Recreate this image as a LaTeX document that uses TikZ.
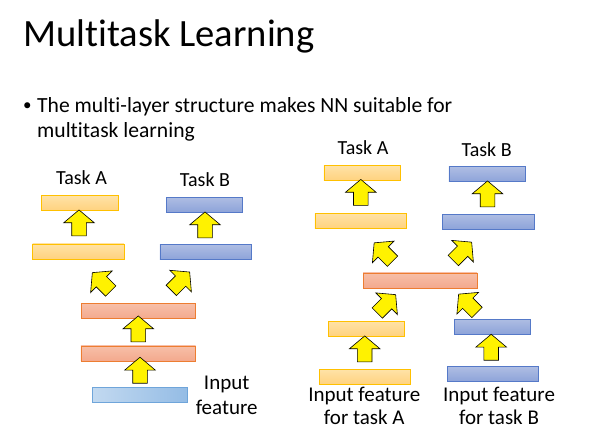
\documentclass[tikz,border=0pt]{standalone}
\usepackage{fontspec}
\setmainfont{Carlito}[Ligatures=NoCommon]
\usepackage{tikz}
\usetikzlibrary{shapes.arrows}

\definecolor{orLine}{HTML}{FFC000}
\definecolor{orTop}{HTML}{FFE2A6}
\definecolor{orBot}{HTML}{FFD27E}
\definecolor{blLine}{HTML}{5579C8}
\definecolor{blTop}{HTML}{AEBDE3}
\definecolor{blBot}{HTML}{8DA3D9}
\definecolor{rdLine}{HTML}{ED7D31}
\definecolor{rdTop}{HTML}{F7BFA8}
\definecolor{rdBot}{HTML}{F3A98D}
\definecolor{inLine}{HTML}{6FA5DA}
\definecolor{inLeft}{HTML}{C2D9F0}
\definecolor{inRight}{HTML}{94BCE5}

\begin{document}
\begin{tikzpicture}[x=1pt,y=-1pt]
		\tikzset{bar/.style={draw, line width=0.9pt, minimum height=15pt, inner sep=0pt}}
		\tikzset{orangebar/.style={bar, draw=orLine, top color=orTop, bottom color=orBot}}
		\tikzset{bluebar/.style={bar, draw=blLine, top color=blTop, bottom color=blBot}}
		\tikzset{redbar/.style={bar, draw=rdLine, top color=rdTop, bottom color=rdBot}}
		\tikzset{inputbar/.style={bar, draw=inLine, left color=inLeft, right color=inRight}}
		\tikzset{uparrow/.style={single arrow, draw=black, fill=yellow, line width=0.6pt, minimum height=26pt, inner xsep=0pt, inner ysep=7pt, single arrow head extend=8pt, single arrow tip angle=100}}
		\tikzset{tasklabel/.style={font=\fontsize{20}{25}\selectfont}}
		\tikzset{inlabel/.style={font=\fontsize{21}{25}\selectfont}}
		
		\useasboundingbox (0,0) rectangle (595,443);
		
		\newcommand\drawBar[5] % {x} {y} {width} {style} {name}
		{
			\node[#4, minimum width=#3pt] at (#1, #2) (#5) {};
		}
		
		\newcommand\drawArrow[4] % {x} {y} {angle} {name}
		{
			\node[uparrow, rotate=#3] at (#1, #2) (#4) {};
		}
		
		% title and bullet
		\node[anchor=base west, inner sep=0pt, font=\fontsize{38.6}{46}\selectfont] (title) at (23,47) {Multitask Learning};
		\node[anchor=base west, inner sep=0pt, font=\fontsize{17}{20}\selectfont] (dot) at (23,111) {\textbullet};
		\node[anchor=base west, inner sep=0pt, font=\fontsize{21.6}{25}\selectfont] (txt1) at (37,113) {The multi-layer structure makes NN suitable for};
		\node[anchor=base west, inner sep=0pt, font=\fontsize{21.6}{25}\selectfont] (txt2) at (37,138) {multitask learning};
		
		% left network
		\drawBar{80}{203.3}{76.6}{orangebar}{la1}
		\drawBar{78.3}{251.5}{91.3}{orangebar}{la2}
		\drawBar{204.7}{204.7}{76}{bluebar}{lb1}
		\drawBar{205.8}{252}{91.7}{bluebar}{lb2}
		\drawBar{138}{311.3}{114}{redbar}{ls1}
		\drawBar{138.3}{353.5}{114.7}{redbar}{ls2}
		\drawBar{140.2}{395.2}{95}{inputbar}{lin}
		
		\drawArrow{79}{226}{90}{lar1}
		\drawArrow{205}{228}{90}{lbr1}
		\drawArrow{103.7}{284}{135}{lar2}
		\drawArrow{178.3}{283.4}{45}{lbr2}
		\drawArrow{138.3}{332}{90}{lsr1}
		\drawArrow{140}{373.3}{90}{lsr2}
		
		\node[tasklabel, anchor=base] (ltA) at (81.5,185) {Task A};
		\node[tasklabel, anchor=base] (ltB) at (205,186.7) {Task B};
		\node[inlabel, anchor=base] (lin1) at (226.7,390) {Input};
		\node[inlabel, anchor=base] (lin2) at (226.7,415) {feature};
		
		% right network
		\drawBar{362.3}{173.3}{76.7}{orangebar}{ra1}
		\drawBar{360.8}{221}{91.7}{orangebar}{ra2}
		\drawBar{487.3}{174.3}{76.7}{bluebar}{rb1}
		\drawBar{488.3}{221.7}{91.3}{bluebar}{rb2}
		\drawBar{420}{280.5}{114}{redbar}{rs}
		\drawBar{366.3}{328.8}{76}{orangebar}{ra3}
		\drawBar{364.7}{377.2}{91.3}{orangebar}{rain}
		\drawBar{492.2}{326.7}{75.7}{bluebar}{rb3}
		\drawBar{493}{374.2}{91.3}{bluebar}{rbin}
		
		\drawArrow{360.8}{195.5}{90}{rar1}
		\drawArrow{487.5}{197}{90}{rbr1}
		\drawArrow{385.5}{254.2}{135}{rar2}
		\drawArrow{460.3}{253.5}{45}{rbr2}
		\drawArrow{384.3}{306}{45}{rar3}
		\drawArrow{470}{305.5}{135}{rbr3}
		\drawArrow{364.7}{352}{90}{rar4}
		\drawArrow{491.2}{350.3}{90}{rbr4}
		
		\node[tasklabel, anchor=base] (rtA) at (363,155) {Task A};
		\node[tasklabel, anchor=base] (rtB) at (486.7,156.7) {Task B};
		\node[inlabel, anchor=base] (rinA1) at (364.3,401.7) {Input feature};
		\node[inlabel, anchor=base] (rinA2) at (364.3,425) {for task A};
		\node[inlabel, anchor=base] (rinB1) at (499,401.7) {Input feature};
		\node[inlabel, anchor=base] (rinB2) at (499,425) {for task B};
		
\end{tikzpicture}
\end{document}
